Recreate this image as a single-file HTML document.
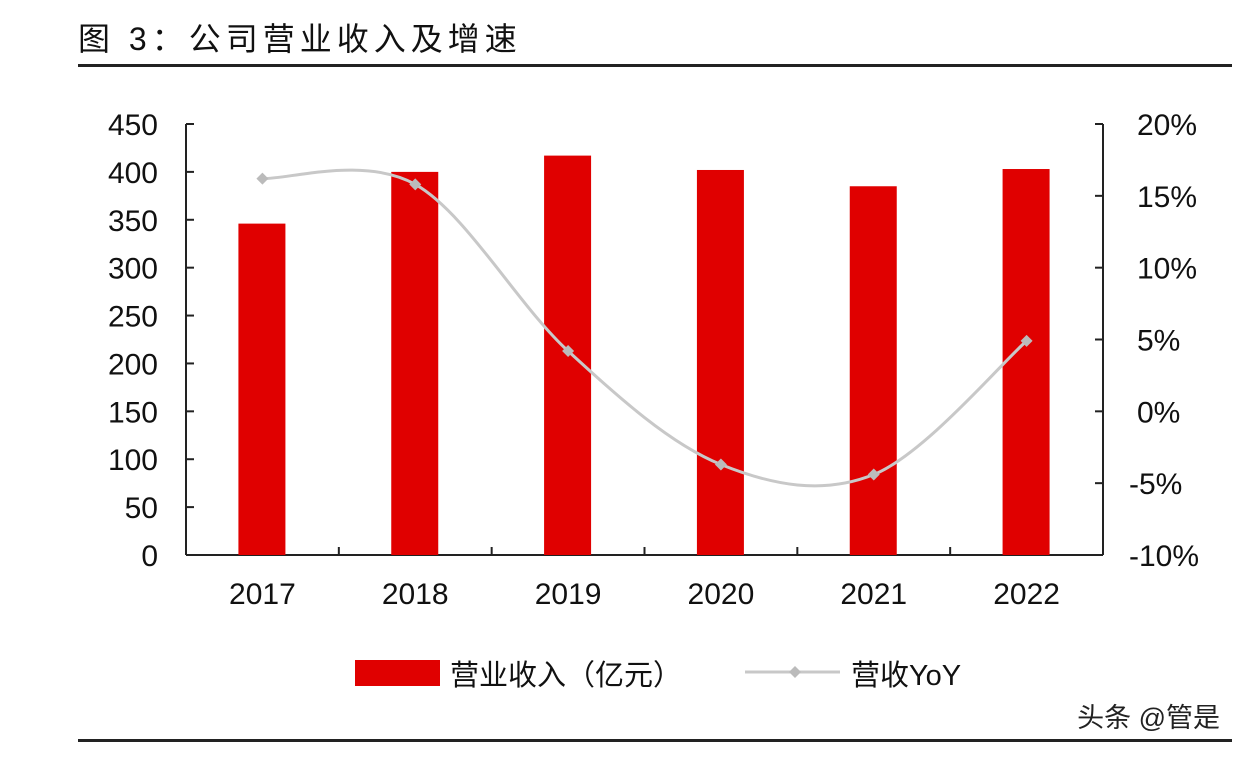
<!DOCTYPE html>
<html><head><meta charset="utf-8"><style>
body{margin:0;background:#fff;}
svg text{font-family:"Liberation Sans","Noto Sans CJK SC",sans-serif;}
</style></head><body>
<svg id="c" width="1242" height="756" xmlns="http://www.w3.org/2000/svg">
<text x="78" y="50" font-size="32" fill="#111" letter-spacing="5">图 3：公司营业收入及增速</text>
<rect x="78" y="64" width="1154" height="3" fill="#222"/>
<rect x="78" y="739" width="1154" height="3" fill="#222"/>
<text x="1220" y="727" font-size="27" text-anchor="end" fill="#222">头条 @管是</text>
<g id="axes"></g><g id="bars"></g><g id="line"></g>
<g>
<rect x="355" y="660" width="85" height="26" fill="#e00000"/>
<text x="450" y="685" font-size="29" fill="#111">营业收入（亿元）</text>
<line x1="745" y1="672" x2="840" y2="672" stroke="#c8c8c8" stroke-width="3"/>
<path d="M795 666 L801 672 L795 678 L789 672Z" fill="#bbb"/>
<text x="851" y="685" font-size="29" fill="#111">营收YoY</text>
</g>
</svg>
<script>
const categories=["2017","2018","2019","2020","2021","2022"];
const revenue=[346,400,417,402,385,403];
const yoy=[16.2,15.8,4.2,-3.7,-4.4,4.9];
const leftTicks=[0,50,100,150,200,250,300,350,400,450];
const rightTicks=[-10,-5,0,5,10,15,20];
const NS="http://www.w3.org/2000/svg";
const X0=186,X1=1103,Y0=555,Y1=124;
const yL=v=>Y0-(v/450)*(Y0-Y1);
const yR=v=>Y0-((v+10)/30)*(Y0-Y1);
const step=(X1-X0)/categories.length;
const xC=i=>X0+step*(i+0.5);
function mk(t,a,p){const e=document.createElementNS(NS,t);for(const k in a)e.setAttribute(k,a[k]);p.appendChild(e);return e;}
const ax=document.getElementById('axes');
let e;
e=mk('line',{x1:X0,y1:Y1,x2:X0,y2:Y0,stroke:'#222','stroke-width':2},ax);


e=mk('line',{x1:X1,y1:Y1,x2:X1,y2:Y0,stroke:'#222','stroke-width':2},ax);


e=mk('line',{x1:X0,y1:Y0,x2:X1,y2:Y0,stroke:'#222','stroke-width':2},ax);


leftTicks.forEach(v=>{
 mk('line',{x1:X0,y1:yL(v),x2:X0+8,y2:yL(v),stroke:'#222','stroke-width':2},ax);
 e=mk('text',{x:158,y:yL(v)+11,'font-size':30,'text-anchor':'end',fill:'#111'},ax);e.textContent=v;
 
 
});
rightTicks.forEach(v=>{
 mk('line',{x1:X1-8,y1:yR(v),x2:X1,y2:yR(v),stroke:'#222','stroke-width':2},ax);
 e=mk('text',{x:v<0?1129:1137,y:yR(v)+11,'font-size':30,fill:'#111'},ax);e.textContent=v+'%';
 
 
});
for(let i=1;i<categories.length;i++)mk('line',{x1:X0+step*i,y1:Y0,x2:X0+step*i,y2:Y0-8,stroke:'#222','stroke-width':2},ax);
const bg=document.getElementById('bars');
categories.forEach((c,i)=>{
 e=mk('rect',{x:xC(i)-24,y:yL(revenue[i]),width:47,height:Y0-yL(revenue[i]),fill:'#e00000'},bg);
 
 
 e=mk('text',{x:xC(i),y:604,'font-size':30,'text-anchor':'middle',fill:'#111'},bg);e.textContent=c;
 
 
});
const lg=document.getElementById('line');
const pts=yoy.map((v,i)=>[xC(i),yR(v)]);
let d='M'+pts[0][0]+' '+pts[0][1];
for(let i=0;i<pts.length-1;i++){
 const p0=pts[i-1]||pts[i],p1=pts[i],p2=pts[i+1],p3=pts[i+2]||p2;
 const c1=[p1[0]+(p2[0]-p0[0])/6,p1[1]+(p2[1]-p0[1])/6];
 const c2=[p2[0]-(p3[0]-p1[0])/6,p2[1]-(p3[1]-p1[1])/6];
 d+=` C${c1[0]} ${c1[1]} ${c2[0]} ${c2[1]} ${p2[0]} ${p2[1]}`;
}
e=mk('path',{d:d,fill:'none',stroke:'#c8c8c8','stroke-width':3},lg);


pts.forEach((p,i)=>{
 e=mk('path',{d:`M${p[0]} ${p[1]-6} L${p[0]+6} ${p[1]} L${p[0]} ${p[1]+6} L${p[0]-6} ${p[1]}Z`,fill:'#bbb'},lg);
 
 
});
</script>
</body></html>
